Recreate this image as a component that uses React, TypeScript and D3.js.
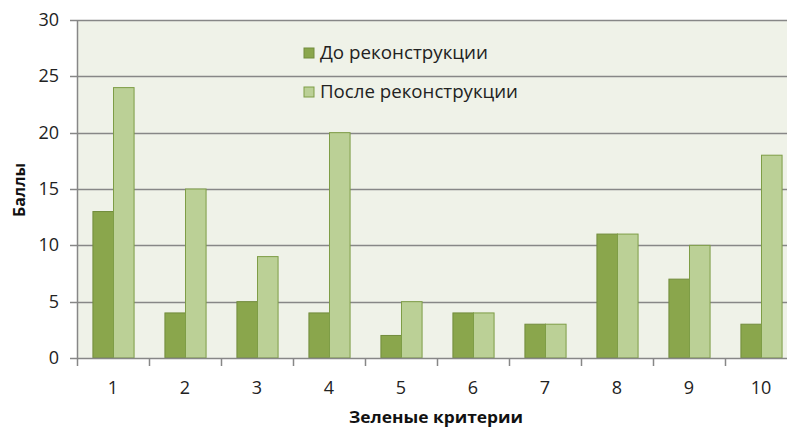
import React, { useEffect, useRef } from 'react';
import * as d3 from 'd3';

const categories = ['1', '2', '3', '4', '5', '6', '7', '8', '9', '10'];
const beforeValues = [13, 4, 5, 4, 2, 4, 3, 11, 7, 3];
const afterValues = [24, 15, 9, 20, 5, 4, 3, 11, 10, 18];
const seriesNames = ['До реконструкции', 'После реконструкции'];
const yTicks = [0, 5, 10, 15, 20, 25, 30];

const App = () => {
  const ref = useRef<SVGSVGElement | null>(null);

  useEffect(() => {
    const svg = d3.select(ref.current);
    svg.selectAll('*').remove();

    const font = '"Open Sans", "Noto Sans", sans-serif';
    const margin = { left: 77, top: 20 };
    const plotRight = 797;
    const plotBottom = 358;

    const x = d3.scaleBand().domain(categories).range([margin.left, plotRight]);
    const inner = d3.scaleBand().domain(['a', 'b']).range([0, x.bandwidth()]).paddingInner(0).paddingOuter(0.75);
    const y = d3.scaleLinear().domain([0, 30]).range([plotBottom, margin.top]);

    svg.append('rect')
      .attr('x', margin.left).attr('y', margin.top)
      .attr('width', plotRight - margin.left).attr('height', plotBottom - margin.top)
      .attr('fill', '#eff2e8');

    // gridlines
    svg.append('g').selectAll('line')
      .data(yTicks.filter(d => d > 0))
      .enter().append('line')
      .attr('x1', margin.left).attr('x2', plotRight)
      .attr('y1', d => Math.round(y(d)) + 0.5).attr('y2', d => Math.round(y(d)) + 0.5)
      .attr('stroke', '#878787').attr('stroke-width', 1.5);

    const rows = categories.map((c, i) => ({ c, vals: [beforeValues[i], afterValues[i]] }));
    const fills = ['#8aa64c', '#bbd096'];
    const strokes = ['#728c3c', '#7e9d46'];

    const groups = svg.append('g').selectAll('g')
      .data(rows).enter().append('g')
      .attr('transform', d => `translate(${x(d.c)},0)`);

    groups.selectAll('rect')
      .data(d => d.vals.map((v, k) => ({ v, k })))
      .enter().append('rect')
      .attr('x', d => (inner(d.k === 0 ? 'a' : 'b') as number) + 0.5)
      .attr('width', inner.bandwidth())
      .attr('y', d => y(d.v))
      .attr('height', d => y(0) - y(d.v))
      .attr('fill', d => fills[d.k])
      .attr('stroke', d => strokes[d.k])
      .attr('stroke-width', 1);

    // axes
    const axisColor = '#878787';
    svg.append('line')
      .attr('x1', margin.left + 0.5).attr('x2', margin.left + 0.5)
      .attr('y1', margin.top).attr('y2', plotBottom)
      .attr('stroke', axisColor).attr('stroke-width', 1.5);
    svg.append('line')
      .attr('x1', margin.left).attr('x2', plotRight)
      .attr('y1', plotBottom + 0.5).attr('y2', plotBottom + 0.5)
      .attr('stroke', axisColor).attr('stroke-width', 1.5);

    svg.append('g').selectAll('line')
      .data(yTicks).enter().append('line')
      .attr('x1', 70).attr('x2', margin.left)
      .attr('y1', d => Math.round(y(d)) + 0.5).attr('y2', d => Math.round(y(d)) + 0.5)
      .attr('stroke', axisColor).attr('stroke-width', 1.5);

    svg.append('g').selectAll('text')
      .data(yTicks).enter().append('text')
      .attr('x', 59).attr('y', d => y(d) + 6)
      .attr('text-anchor', 'end')
      .attr('font-family', font).attr('font-size', 18).attr('fill', '#222')
      .text(d => d);

    const xTickPos = categories.map(c => x(c) as number).concat([plotRight]);
    svg.append('g').selectAll('line')
      .data(xTickPos).enter().append('line')
      .attr('x1', d => Math.round(d) + 0.5).attr('x2', d => Math.round(d) + 0.5)
      .attr('y1', plotBottom).attr('y2', plotBottom + 8)
      .attr('stroke', axisColor).attr('stroke-width', 1.5);

    svg.append('g').selectAll('text')
      .data(categories).enter().append('text')
      .attr('x', d => (x(d) as number) + x.bandwidth() / 2)
      .attr('y', 394)
      .attr('text-anchor', 'middle')
      .attr('font-family', font).attr('font-size', 18).attr('fill', '#222')
      .text(d => d);

    svg.append('text')
      .attr('x', 349).attr('y', 423)
      .attr('textLength', 174).attr('lengthAdjust', 'spacingAndGlyphs')
      .attr('font-family', font).attr('font-size', 16).attr('font-weight', 'bold').attr('fill', '#111')
      .text('Зеленые критерии');

    svg.append('text')
      .attr('transform', `translate(25,217) rotate(-90)`)
      .attr('textLength', 54).attr('lengthAdjust', 'spacingAndGlyphs')
      .attr('font-family', font).attr('font-size', 16).attr('font-weight', 'bold').attr('fill', '#111')
      .text('Баллы');

    // legend
    const legendLens = [168, 198];
    const legend = svg.append('g').selectAll('g')
      .data(seriesNames).enter().append('g')
      .attr('transform', (d, i) => `translate(304,${48 + i * 39})`);
    legend.append('rect')
      .attr('width', 10).attr('height', 10)
      .attr('fill', (d, i) => fills[i]).attr('stroke', (d, i) => strokes[i]);
    legend.append('text')
      .attr('x', 16).attr('y', 11)
      .attr('textLength', (d, i) => legendLens[i]).attr('lengthAdjust', 'spacingAndGlyphs')
      .attr('font-family', font).attr('font-size', 18).attr('fill', '#222')
      .text(d => d);
  }, []);

  return <svg ref={ref} width={787} height={430} style={{ position: 'absolute', left: 0, top: 0, background: '#fff' }} />;
};

export default App;
